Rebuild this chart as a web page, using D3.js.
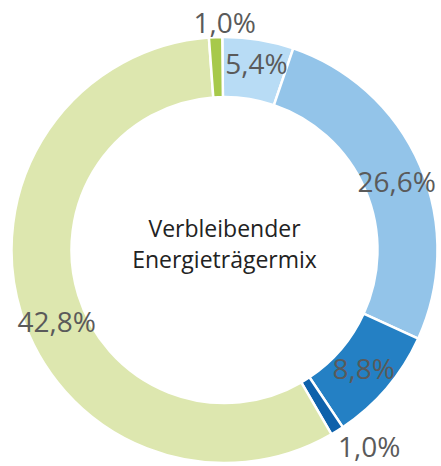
<!DOCTYPE html>
<html>
<head>
<meta charset="utf-8">
<script src="https://cdn.jsdelivr.net/npm/d3@7"></script>
<style>
  html, body { margin: 0; padding: 0; background: #ffffff; }
  svg { display: block; }
</style>
</head>
<body>
<svg id="chart" width="441" height="466"></svg>
<script>
// ---- data ----
const categories = ["Segment A", "Segment B", "Segment C", "Segment D", "Segment E", "Segment F"];
// arc sizes as drawn in the picture (percent of the full ring)
const arcValues = [5.4, 26.6, 8.8, 1.0, 57.2, 1.0];
// values printed on the labels
const labelValues = [5.4, 26.6, 8.8, 1.0, 42.8, 1.0];
const centerTitle = ["Verbleibender", "Energieträgermix"];

// ---- styles ----
const colors = ["#b8dcf5", "#93c4e9", "#2480c4", "#0e61ab", "#dde7af", "#a7c94b"];
const outsideLabel = [false, false, false, true, false, true];
const labelNudge = [[3, -5], [4, 5], [0, 0], [22, 0], [7, 18], [10, 5]];

const W = 441, H = 466;
const cx = 224.5, cy = 250;
const outerR = 213, innerR = 153;
const rot = -0.6 * Math.PI / 180;

const svg = d3.select("#chart");
const g = svg.append("g").attr("transform", `translate(${cx},${cy})`);

const pie = d3.pie()
  .sort(null)
  .value(d => d.v)
  .startAngle(rot)
  .endAngle(rot + 2 * Math.PI);

const data = categories.map((c, i) => ({ c, v: arcValues[i], lab: labelValues[i], i }));
const arcs = pie(data);

const arc = d3.arc().innerRadius(innerR).outerRadius(outerR);

g.selectAll("path.slice")
  .data(arcs)
  .join("path")
  .attr("class", "slice")
  .attr("d", arc)
  .attr("fill", d => colors[d.data.i])
  .attr("stroke", "#ffffff")
  .attr("stroke-width", 2.5)
  .attr("stroke-linejoin", "miter");

const fmt = v => d3.format(".1f")(v).replace(".", ",") + "%";
const labelArcIn = d3.arc().innerRadius(183).outerRadius(183);
const labelArcOut = d3.arc().innerRadius(232).outerRadius(232);

g.selectAll("text.pct")
  .data(arcs)
  .join("text")
  .attr("class", "pct")
  .attr("transform", d => {
    const p = (outsideLabel[d.data.i] ? labelArcOut : labelArcIn).centroid(d);
    const n = labelNudge[d.data.i];
    return `translate(${p[0] + n[0]},${p[1] + n[1]})`;
  })
  .attr("text-anchor", "middle")
  .attr("dy", "0.35em")
  .attr("font-family", "'Open Sans', 'Noto Sans', sans-serif")
  .attr("font-size", 28)
  .attr("fill", "#5a5a5a")
  .text(d => fmt(d.data.lab));

const title = g.append("text")
  .attr("text-anchor", "middle")
  .attr("font-family", "'Open Sans', 'Noto Sans', sans-serif")
  .attr("font-size", 23)
  .attr("fill", "#222222");
title.selectAll("tspan")
  .data(centerTitle)
  .join("tspan")
  .attr("x", 0)
  .attr("y", (d, i) => -13.3 + i * 31.6)
  .text(d => d);
</script>
</body>
</html>
